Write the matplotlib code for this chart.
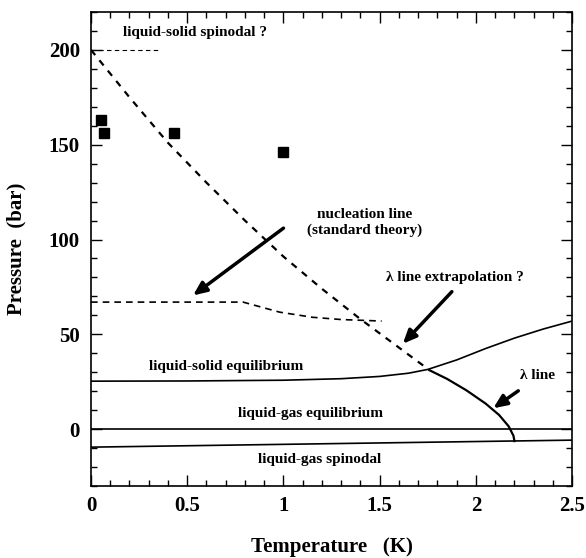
import matplotlib.pyplot as plt
from matplotlib.ticker import MultipleLocator

plt.rcParams['font.family'] = ['Liberation Serif', 'DejaVu Serif']
plt.rcParams['font.weight'] = 'bold'

# data
sq_T = [0.05, 0.07, 0.43, 1.0]
sq_P = [163, 156, 156, 146]

# spinodal / lambda extrapolation (dashed) and lambda line (solid)
spin_T = [0.0, 0.2, 0.4, 0.6, 0.8, 1.0, 1.2, 1.4, 1.6, 1.76]
spin_P = [200, 175, 151, 130, 110, 91, 74, 58, 43, 31]
lam_T = [1.76, 1.85, 1.95, 2.05, 2.12, 2.17, 2.195, 2.2]
lam_P = [31, 26.5, 20.5, 13.5, 7.5, 1.5, -3.5, -6.3]

# liquid-solid equilibrium
ls_T = [0.0, 0.5, 1.0, 1.3, 1.5, 1.65, 1.75, 1.9, 2.05, 2.2, 2.35, 2.5]
ls_P = [25.3, 25.4, 25.8, 26.6, 27.8, 29.5, 31.5, 36.5, 42.5, 48.0, 52.8, 57.0]

# nucleation line (standard theory)
nuc_T = [0.0, 0.79, 0.98, 1.15, 1.3, 1.51]
nuc_P = [67, 67, 61.7, 59, 57.8, 57]

# liquid-gas lines
lgeq_T = [0.0, 2.5]
lgeq_P = [0, 0]
lgsp_T = [0.0, 2.5]
lgsp_P = [-9.5, -5.8]

# liquid-solid spinodal marker
lss_T = [0.0, 0.35]
lss_P = [200, 200]

fig = plt.figure(figsize=(5.86, 5.58), dpi=100)
ax = fig.add_axes([0.1553, 0.129, 0.8211, 0.8495])

ax.plot(lss_T, lss_P, color='black', lw=0.8, ls=(0, (4, 3)))
ax.plot(spin_T, spin_P, color='black', lw=1.6, ls=(0, (3, 3)))
ax.plot(lam_T, lam_P, color='black', lw=1.6)
ax.plot(ls_T, ls_P, color='black', lw=1.2)
ax.plot(nuc_T, nuc_P, color='black', lw=1.2, ls=(0, (4, 3)))
ax.plot(lgeq_T, lgeq_P, color='black', lw=1.2)
ax.plot(lgsp_T, lgsp_P, color='black', lw=1.2)
ax.plot(sq_T, sq_P, 's', color='black', ms=7)

arrow = dict(arrowstyle='-|>,head_length=0.8,head_width=0.35', color='black', lw=2.5, shrinkA=0, shrinkB=0)
ax.annotate('', xy=(0.53, 70.5), xytext=(1.0, 106), arrowprops=arrow)
ax.annotate('', xy=(1.62, 45), xytext=(1.875, 72.5), arrowprops=arrow)
ax.annotate('', xy=(2.09, 11), xytext=(2.22, 20.2), arrowprops=arrow)

tk = dict(fontsize=11, fontweight='bold', ha='center', va='center')
ax.text(0.54, 209, 'liquid-solid spinodal ?', **tk)
ax.text(1.42, 113, 'nucleation line', **tk)
ax.text(1.42, 105, '(standard theory)', **tk)
ax.text(1.89, 80, 'λ line extrapolation ?', **tk)
ax.text(0.70, 33, 'liquid-solid equilibrium', **tk)
ax.text(2.32, 28.5, 'λ line', **tk)
ax.text(1.14, 8, 'liquid-gas equilibrium', **tk)
ax.text(1.19, -16, 'liquid-gas spinodal', **tk)

ax.set_xlim(0, 2.5)
ax.set_ylim(-30, 220)
ax.set_xticks([0, 0.5, 1, 1.5, 2, 2.5])
ax.set_xticklabels(['0', '0.5', '1', '1.5', '2', '2.5'])
ax.set_yticks([0, 50, 100, 150, 200])
ax.xaxis.set_minor_locator(MultipleLocator(0.1))
ax.yaxis.set_minor_locator(MultipleLocator(10))
ax.tick_params(which='both', direction='in', top=True, right=True, width=1)
ax.tick_params(which='major', length=8, labelsize=15)
ax.tick_params(axis='x', which='major', pad=7)
ax.tick_params(axis='y', which='major', pad=8)
ax.tick_params(which='minor', length=4)
for lbl in ax.get_xticklabels() + ax.get_yticklabels():
    lbl.set_fontweight('bold')
for s in ax.spines.values():
    s.set_linewidth(1.2)

ax.set_xlabel('Temperature   (K)', fontsize=15, fontweight='bold', labelpad=15)
ax.set_ylabel('Pressure  (bar)', fontsize=15, fontweight='bold', labelpad=16)

fig.savefig('out.png', dpi=100)
